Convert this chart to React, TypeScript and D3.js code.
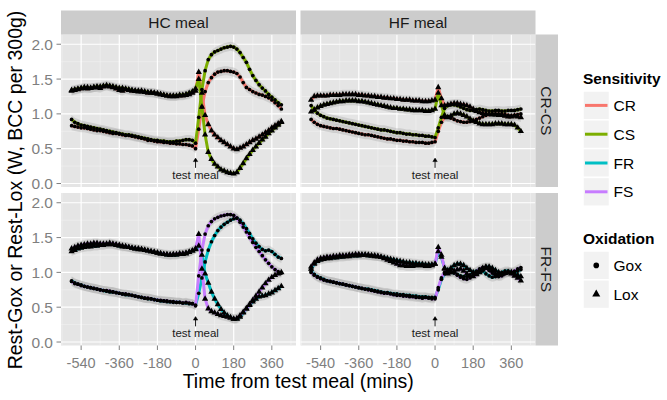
import React from "react";
import * as d3 from "d3";

const TIMES = [
  -585, -570, -555, -540, -525, -510, -495, -480, -465, -450,
  -435, -420, -405, -390, -375, -360, -345, -330, -315, -300,
  -285, -270, -255, -240, -225, -210, -195, -180, -165, -150,
  -135, -120, -105, -90, -75, -60, -45, -30, -15, 0,
  15, 30, 45, 60, 75, 90, 105, 120, 135, 150, 165, 180, 195, 210,
  225, 240, 255, 270, 285, 300, 315, 330, 345, 360, 375, 390, 405,
];

const MEALS = ["HC meal", "HF meal"];
const PAIRS = ["CR-CS", "FR-FS"];
const SENSITIVITY = ["CR", "CS", "FR", "FS"];
const SENS_COLORS = ["#F8766D", "#7CAE00", "#00BFC4", "#C77CFF"];
const OXIDATION = ["Gox", "Lox"];
const X_TICKS = [-540, -360, -180, 0, 180, 360];
const X_MINOR = [-630, -450, -270, -90, 90, 270, 450];
const Y_TICKS = [0, 0.5, 1, 1.5, 2];
const Y_MINOR = [0.25, 0.75, 1.25, 1.75];

// HC meal, CR-CS
const HC_CR_LOX = [
  1.33, 1.34, 1.35, 1.36, 1.37, 1.36, 1.37, 1.38, 1.38, 1.37,
  1.39, 1.40, 1.39, 1.38, 1.36, 1.34, 1.33, 1.35, 1.34, 1.33,
  1.33, 1.32, 1.33, 1.31, 1.30, 1.31, 1.30, 1.29, 1.28, 1.27,
  1.26, 1.26, 1.25, 1.25, 1.26, 1.26, 1.27, 1.28, 1.30, 1.33,
  1.60, 1.30, 0.98, 0.85, 0.76, 0.70, 0.66, 0.62, 0.59, 0.56, 0.53, 0.50, 0.49, 0.51,
  0.53, 0.56, 0.59, 0.62, 0.64, 0.67, 0.70, 0.73, 0.76, 0.80, 0.83, 0.86, 0.89,
];
const HC_CS_LOX = [
  1.34, 1.35, 1.36, 1.37, 1.38, 1.38, 1.37, 1.38, 1.39, 1.39,
  1.40, 1.41, 1.40, 1.39, 1.38, 1.37, 1.37, 1.36, 1.35, 1.34,
  1.33, 1.33, 1.32, 1.32, 1.31, 1.30, 1.30, 1.29, 1.28, 1.27,
  1.26, 1.25, 1.26, 1.26, 1.27, 1.27, 1.28, 1.30, 1.32, 1.36,
  1.50, 1.10, 0.70, 0.45, 0.35, 0.28, 0.24, 0.20, 0.18, 0.16, 0.15, 0.14, 0.16, 0.22,
  0.29, 0.36, 0.42, 0.48, 0.53, 0.58, 0.63, 0.67, 0.72, 0.76, 0.80, 0.84, 0.88,
];
const HC_CR_GOX = [
  0.83, 0.82, 0.81, 0.80, 0.80, 0.79, 0.78, 0.77, 0.76, 0.76,
  0.75, 0.74, 0.73, 0.72, 0.72, 0.71, 0.70, 0.69, 0.69, 0.68,
  0.67, 0.66, 0.65, 0.64, 0.62, 0.62, 0.61, 0.60, 0.60, 0.59,
  0.59, 0.58, 0.58, 0.57, 0.57, 0.56, 0.56, 0.55, 0.54, 0.50,
  0.78, 1.10, 1.32, 1.45, 1.52, 1.57, 1.60, 1.61, 1.62, 1.62, 1.61, 1.60, 1.58, 1.53,
  1.45, 1.38, 1.35, 1.32, 1.30, 1.28, 1.27, 1.25, 1.23, 1.20, 1.16, 1.12, 1.07,
];
const HC_CS_GOX = [
  0.92, 0.88, 0.86, 0.84, 0.83, 0.82, 0.81, 0.80, 0.79, 0.78,
  0.77, 0.76, 0.75, 0.74, 0.73, 0.72, 0.71, 0.70, 0.70, 0.69,
  0.68, 0.67, 0.66, 0.65, 0.64, 0.63, 0.62, 0.62, 0.61, 0.61,
  0.60, 0.60, 0.60, 0.61, 0.61, 0.62, 0.63, 0.63, 0.62, 0.58,
  0.95, 1.35, 1.62, 1.78, 1.85, 1.89, 1.91, 1.93, 1.95, 1.96, 1.97, 1.96, 1.93, 1.88,
  1.81, 1.74, 1.64, 1.55, 1.48, 1.42, 1.37, 1.33, 1.28, 1.24, 1.20, 1.16, 1.13,
];

// HF meal, CR-CS
const HF_CR_LOX = [
  1.20, 1.25, 1.26, 1.26, 1.26, 1.26, 1.27, 1.27, 1.27, 1.27,
  1.28, 1.28, 1.28, 1.28, 1.28, 1.27, 1.27, 1.26, 1.26, 1.25,
  1.25, 1.24, 1.24, 1.23, 1.23, 1.22, 1.22, 1.21, 1.21, 1.20,
  1.20, 1.20, 1.19, 1.19, 1.19, 1.18, 1.18, 1.18, 1.19, 1.20,
  1.38, 1.22, 1.12, 1.13, 1.14, 1.15, 1.15, 1.14, 1.13, 1.12, 1.10, 1.07, 1.04, 1.02,
  1.01, 1.00, 1.00, 0.99, 0.99, 0.98, 0.98, 0.97, 0.96, 0.96, 0.97, 0.96, 0.95,
];
const HF_CS_LOX = [
  1.03, 1.06, 1.09, 1.11, 1.13, 1.14, 1.15, 1.16, 1.17, 1.18,
  1.18, 1.19, 1.19, 1.19, 1.19, 1.18, 1.18, 1.17, 1.16, 1.15,
  1.14, 1.13, 1.12, 1.11, 1.10, 1.09, 1.08, 1.08, 1.07, 1.07,
  1.06, 1.06, 1.05, 1.05, 1.05, 1.05, 1.04, 1.04, 1.05, 1.07,
  1.30, 1.12, 0.98, 0.95, 0.97, 1.00, 1.01, 1.00, 0.98, 0.96, 0.93, 0.90, 0.88, 0.86,
  0.85, 0.85, 0.85, 0.85, 0.86, 0.86, 0.86, 0.85, 0.85, 0.85, 0.84, 0.80, 0.75,
];
const HF_CR_GOX = [
  0.92, 0.88, 0.85, 0.83, 0.82, 0.81, 0.80, 0.79, 0.79, 0.78,
  0.77, 0.76, 0.75, 0.74, 0.73, 0.72, 0.71, 0.70, 0.70, 0.69,
  0.68, 0.67, 0.66, 0.65, 0.64, 0.64, 0.63, 0.62, 0.62, 0.61,
  0.61, 0.60, 0.60, 0.59, 0.59, 0.59, 0.58, 0.58, 0.59, 0.60,
  0.75, 0.88, 0.95, 0.96, 0.94, 0.92, 0.90, 0.89, 0.88, 0.88, 0.89, 0.90, 0.92, 0.94,
  0.96, 0.98, 0.99, 1.00, 1.00, 1.00, 1.00, 0.99, 0.98, 0.97, 0.98, 0.99, 1.00,
];
const HF_CS_GOX = [
  1.12, 1.05, 1.01, 0.98, 0.96, 0.94, 0.93, 0.92, 0.91, 0.90,
  0.89, 0.88, 0.87, 0.86, 0.85, 0.84, 0.83, 0.82, 0.81, 0.80,
  0.79, 0.78, 0.77, 0.77, 0.76, 0.75, 0.74, 0.73, 0.73, 0.72,
  0.71, 0.71, 0.70, 0.70, 0.69, 0.69, 0.68, 0.68, 0.67, 0.66,
  0.80, 0.95, 1.08, 1.12, 1.13, 1.13, 1.12, 1.10, 1.08, 1.06, 1.05, 1.05, 1.06, 1.07,
  1.06, 1.05, 1.04, 1.04, 1.05, 1.05, 1.04, 1.04, 1.05, 1.05, 1.05, 1.06, 1.07,
];

// HC meal, FR-FS
const HC_FR_LOX = [
  1.30, 1.32, 1.34, 1.35, 1.36, 1.37, 1.37, 1.38, 1.38, 1.39,
  1.39, 1.40, 1.40, 1.40, 1.39, 1.38, 1.37, 1.37, 1.36, 1.35,
  1.34, 1.33, 1.33, 1.32, 1.31, 1.30, 1.29, 1.28, 1.27, 1.26,
  1.25, 1.25, 1.25, 1.25, 1.26, 1.26, 1.27, 1.29, 1.31, 1.33,
  1.38, 1.25, 0.98, 0.85, 0.72, 0.62, 0.54, 0.47, 0.42, 0.38, 0.35, 0.33, 0.33, 0.36,
  0.42, 0.48, 0.53, 0.58, 0.62, 0.65, 0.66, 0.67, 0.69, 0.71, 0.74, 0.77, 0.80,
];
const HC_FS_LOX = [
  1.34, 1.36, 1.38, 1.39, 1.40, 1.41, 1.41, 1.42, 1.42, 1.41,
  1.41, 1.41, 1.42, 1.41, 1.40, 1.39, 1.38, 1.37, 1.36, 1.35,
  1.34, 1.34, 1.33, 1.32, 1.31, 1.30, 1.29, 1.28, 1.27, 1.26,
  1.26, 1.25, 1.26, 1.26, 1.27, 1.27, 1.28, 1.29, 1.31, 1.34,
  1.55, 1.05, 0.62, 0.48, 0.44, 0.42, 0.40, 0.38, 0.37, 0.36, 0.35, 0.33, 0.34, 0.38,
  0.43, 0.48, 0.54, 0.60, 0.66, 0.72, 0.78, 0.84, 0.89, 0.93, 0.96, 0.98, 1.00,
];
const HC_FR_GOX = [
  0.88, 0.85, 0.83, 0.82, 0.80, 0.79, 0.78, 0.77, 0.76, 0.75,
  0.74, 0.73, 0.72, 0.72, 0.71, 0.70, 0.69, 0.68, 0.68, 0.67,
  0.66, 0.65, 0.64, 0.63, 0.62, 0.62, 0.61, 0.60, 0.59, 0.59,
  0.58, 0.58, 0.57, 0.57, 0.57, 0.56, 0.56, 0.55, 0.55, 0.53,
  0.70, 0.92, 1.15, 1.32, 1.44, 1.53, 1.60, 1.65, 1.69, 1.72, 1.75, 1.77, 1.78, 1.75,
  1.70, 1.63, 1.56, 1.48, 1.42, 1.37, 1.33, 1.31, 1.32, 1.30, 1.26, 1.22, 1.20,
];
const HC_FS_GOX = [
  0.87, 0.84, 0.83, 0.81, 0.80, 0.79, 0.78, 0.77, 0.76, 0.75,
  0.74, 0.74, 0.73, 0.72, 0.71, 0.70, 0.69, 0.69, 0.68, 0.67,
  0.66, 0.65, 0.64, 0.63, 0.63, 0.62, 0.61, 0.60, 0.60, 0.59,
  0.59, 0.58, 0.58, 0.57, 0.57, 0.56, 0.57, 0.56, 0.55, 0.52,
  0.95, 1.32, 1.55, 1.67, 1.73, 1.77, 1.79, 1.81, 1.82, 1.83, 1.83, 1.82, 1.78, 1.72,
  1.65, 1.58, 1.50, 1.43, 1.36, 1.30, 1.24, 1.18, 1.13, 1.08, 1.04, 1.01, 0.99,
];

// HF meal, FR-FS
const HF_FR_LOX = [
  1.05, 1.12, 1.16, 1.18, 1.19, 1.20, 1.20, 1.21, 1.21, 1.22,
  1.22, 1.23, 1.23, 1.24, 1.24, 1.24, 1.25, 1.25, 1.24, 1.24,
  1.23, 1.23, 1.22, 1.21, 1.20, 1.19, 1.18, 1.17, 1.16, 1.15,
  1.14, 1.14, 1.13, 1.13, 1.12, 1.12, 1.11, 1.11, 1.11, 1.12,
  1.30, 1.22, 1.06, 1.03, 1.06, 1.10, 1.12, 1.12, 1.10, 1.06, 1.03, 1.00, 0.98, 1.00,
  1.04, 1.07, 1.08, 1.06, 1.03, 1.00, 0.98, 0.99, 1.00, 1.00, 0.98, 0.96, 0.94,
];
const HF_FS_LOX = [
  1.08, 1.14, 1.18, 1.20, 1.21, 1.22, 1.22, 1.23, 1.23, 1.24,
  1.24, 1.24, 1.25, 1.25, 1.26, 1.26, 1.25, 1.25, 1.25, 1.24,
  1.24, 1.23, 1.22, 1.20, 1.18, 1.16, 1.14, 1.12, 1.10, 1.10,
  1.09, 1.09, 1.09, 1.10, 1.10, 1.10, 1.09, 1.09, 1.10, 1.12,
  1.36, 1.25, 1.05, 0.98, 1.00, 1.02, 1.04, 1.05, 1.02, 0.98, 0.95, 0.94, 0.97, 1.02,
  1.06, 1.08, 1.06, 1.02, 0.98, 0.96, 0.97, 1.00, 1.00, 0.98, 0.95, 0.92, 0.88,
];
const HF_FR_GOX = [
  1.02, 0.97, 0.94, 0.92, 0.90, 0.88, 0.87, 0.86, 0.85, 0.84,
  0.83, 0.82, 0.81, 0.80, 0.79, 0.78, 0.77, 0.76, 0.76, 0.75,
  0.74, 0.73, 0.72, 0.71, 0.71, 0.70, 0.69, 0.69, 0.68, 0.68,
  0.67, 0.67, 0.66, 0.66, 0.65, 0.65, 0.65, 0.64, 0.64, 0.64,
  0.75, 0.90, 0.98, 1.00, 1.00, 0.99, 0.97, 0.95, 0.94, 0.94, 0.96, 0.99, 1.02, 1.04,
  1.02, 0.98, 0.95, 0.93, 0.94, 0.97, 1.00, 1.02, 1.02, 1.00, 1.00, 1.02, 1.04,
];
const HF_FS_GOX = [
  1.00, 0.96, 0.93, 0.91, 0.89, 0.88, 0.87, 0.86, 0.85, 0.84,
  0.83, 0.82, 0.81, 0.80, 0.79, 0.78, 0.77, 0.76, 0.75, 0.74,
  0.73, 0.72, 0.71, 0.70, 0.70, 0.69, 0.68, 0.67, 0.67, 0.66,
  0.66, 0.65, 0.65, 0.64, 0.64, 0.63, 0.64, 0.63, 0.62, 0.62,
  0.78, 0.92, 1.00, 1.03, 1.02, 1.00, 0.96, 0.93, 0.91, 0.90, 0.92, 0.96, 1.01, 1.05,
  1.07, 1.06, 1.03, 0.99, 0.96, 0.94, 0.95, 0.98, 1.00, 1.00, 1.02, 1.05, 1.07,
];

const SERIES = [
  { meal: "HC meal", pair: "CR-CS", sens: "CR", ox: "Gox", values: HC_CR_GOX },
  { meal: "HC meal", pair: "CR-CS", sens: "CR", ox: "Lox", values: HC_CR_LOX },
  { meal: "HC meal", pair: "CR-CS", sens: "CS", ox: "Gox", values: HC_CS_GOX },
  { meal: "HC meal", pair: "CR-CS", sens: "CS", ox: "Lox", values: HC_CS_LOX },
  { meal: "HF meal", pair: "CR-CS", sens: "CR", ox: "Gox", values: HF_CR_GOX },
  { meal: "HF meal", pair: "CR-CS", sens: "CR", ox: "Lox", values: HF_CR_LOX },
  { meal: "HF meal", pair: "CR-CS", sens: "CS", ox: "Gox", values: HF_CS_GOX },
  { meal: "HF meal", pair: "CR-CS", sens: "CS", ox: "Lox", values: HF_CS_LOX },
  { meal: "HC meal", pair: "FR-FS", sens: "FR", ox: "Gox", values: HC_FR_GOX },
  { meal: "HC meal", pair: "FR-FS", sens: "FR", ox: "Lox", values: HC_FR_LOX },
  { meal: "HC meal", pair: "FR-FS", sens: "FS", ox: "Gox", values: HC_FS_GOX },
  { meal: "HC meal", pair: "FR-FS", sens: "FS", ox: "Lox", values: HC_FS_LOX },
  { meal: "HF meal", pair: "FR-FS", sens: "FR", ox: "Gox", values: HF_FR_GOX },
  { meal: "HF meal", pair: "FR-FS", sens: "FR", ox: "Lox", values: HF_FR_LOX },
  { meal: "HF meal", pair: "FR-FS", sens: "FS", ox: "Gox", values: HF_FS_GOX },
  { meal: "HF meal", pair: "FR-FS", sens: "FS", ox: "Lox", values: HF_FS_LOX },
];

const FONT = "'Liberation Sans', Arial, Helvetica, sans-serif";
const colorScale = d3.scaleOrdinal<string, string>().domain(SENSITIVITY).range(SENS_COLORS);

export default function App() {
  const W = 667;
  const H = 400;
  const colX = [61, 300.5];
  const panelW = 235;
  const rowY = [34.5, 193];
  const panelH = 152.5;
  const stripH = 24;
  const stripW = 22.5;

  const xScales = colX.map((x0) => d3.scaleLinear().domain([-635, 474]).range([x0, x0 + panelW]));
  const yScales = rowY.map((y0) => d3.scaleLinear().domain([-0.05, 2.14]).range([y0 + panelH, y0]));

  const triPath = d3.symbol().type(d3.symbolTriangle).size(17)() as string;
  const triLegend = d3.symbol().type(d3.symbolTriangle).size(28)() as string;

  const panels: any[] = [];
  PAIRS.forEach((pair, r) => {
    MEALS.forEach((meal, c) => {
      const xs = xScales[c];
      const ys = yScales[r];
      const data = SERIES.filter((s) => s.meal === meal && s.pair === pair);
      const line = d3
        .line<number>()
        .x((_, i) => xs(TIMES[i]))
        .y((v) => ys(v));
      const area = d3
        .area<number>()
        .x((_, i) => xs(TIMES[i]))
        .y0((v) => ys(v - 0.065))
        .y1((v) => ys(v + 0.065));
      const x0 = colX[c];
      const y0 = rowY[r];
      panels.push(
        <g key={`p-${r}-${c}`}>
          <rect x={x0} y={y0} width={panelW} height={panelH} fill="#E5E5E5" />
          {X_MINOR.map((t) => (
            <line key={`xm${t}`} x1={xs(t)} x2={xs(t)} y1={y0} y2={y0 + panelH} stroke="#F2F2F2" strokeWidth={0.6} />
          ))}
          {Y_MINOR.map((t) => (
            <line key={`ym${t}`} x1={x0} x2={x0 + panelW} y1={ys(t)} y2={ys(t)} stroke="#F2F2F2" strokeWidth={0.6} />
          ))}
          {X_TICKS.map((t) => (
            <line key={`xM${t}`} x1={xs(t)} x2={xs(t)} y1={y0} y2={y0 + panelH} stroke="#FFFFFF" strokeWidth={1.2} />
          ))}
          {Y_TICKS.map((t) => (
            <line key={`yM${t}`} x1={x0} x2={x0 + panelW} y1={ys(t)} y2={ys(t)} stroke="#FFFFFF" strokeWidth={1.2} />
          ))}
          <clipPath id={`clip-${r}-${c}`}>
            <rect x={x0} y={y0} width={panelW} height={panelH} />
          </clipPath>
          <g clipPath={`url(#clip-${r}-${c})`}>
            {data.map((s, k) => (
              <path key={`a${k}`} d={area(s.values) as string} fill="#999999" fillOpacity={0.3} />
            ))}
            {data.map((s, k) => (
              <path key={`l${k}`} d={line(s.values) as string} fill="none" stroke={colorScale(s.sens)} strokeWidth={3} strokeLinejoin="round" />
            ))}
            {data.map((s, k) =>
              s.values.map((v, i) =>
                s.ox === "Gox" ? (
                  <circle key={`c${k}-${i}`} cx={xs(TIMES[i])} cy={ys(v)} r={1.85} fill="#000" />
                ) : (
                  <path key={`t${k}-${i}`} d={triPath} transform={`translate(${xs(TIMES[i])},${ys(v)})`} fill="#000" />
                )
              )
            )}
          </g>
          {/* test meal annotation */}
          <line x1={xs(0)} x2={xs(0)} y1={ys(0.225)} y2={ys(0.35)} stroke="#000" strokeWidth={0.9} />
          <path
            d={`M${xs(0) - 2.2},${ys(0.315)} L${xs(0)},${ys(0.365)} L${xs(0) + 2.2},${ys(0.315)} Z`}
            fill="#000"
            stroke="#000"
            strokeWidth={0.5}
          />
          <text x={xs(0)} y={ys(0.125)} fontSize={11.5} fill="#1A1A1A" textAnchor="middle" dominantBaseline="central" fontFamily={FONT}>
            test meal
          </text>
        </g>
      );
    });
  });

  // legend
  const legX = 583;
  const keyW = 26.5;
  const keyH = 28.8;
  const sensTop = 91;
  const oxTop = 251;

  return (
    <svg width={W} height={H} style={{ position: "absolute", left: 0, top: 0 }} fontFamily={FONT}>
      <rect x={0} y={0} width={W} height={H} fill="#FFFFFF" />
      {panels}
      {/* top strips */}
      {MEALS.map((m, c) => (
        <g key={`s${m}`}>
          <rect x={colX[c]} y={rowY[0] - stripH} width={panelW} height={stripH} fill="#CCCCCC" />
          <text x={colX[c] + panelW / 2} y={rowY[0] - stripH / 2} fontSize={15.5} fill="#1A1A1A" textAnchor="middle" dominantBaseline="central">
            {m}
          </text>
        </g>
      ))}
      {/* right strips */}
      {PAIRS.map((p, r) => (
        <g key={`r${p}`}>
          <rect x={colX[1] + panelW} y={rowY[r]} width={stripW} height={panelH} fill="#CCCCCC" />
          <text
            transform={`translate(${colX[1] + panelW + stripW / 2},${rowY[r] + panelH / 2}) rotate(90)`}
            fontSize={15.5}
            fill="#1A1A1A"
            textAnchor="middle"
            dominantBaseline="central"
          >
            {p}
          </text>
        </g>
      ))}
      {/* y axis */}
      {PAIRS.map((p, r) => (
        <g key={`ya${p}`}>
          {Y_TICKS.map((t) => (
            <g key={t}>
              <line x1={colX[0] - 4.5} x2={colX[0]} y1={yScales[r](t)} y2={yScales[r](t)} stroke="#7F7F7F" strokeWidth={1} />
              <text x={colX[0] - 8} y={yScales[r](t)} fontSize={15.5} fill="#7F7F7F" textAnchor="end" dominantBaseline="central">
                {d3.format(".1f")(t)}
              </text>
            </g>
          ))}
        </g>
      ))}
      {/* x axis */}
      {MEALS.map((m, c) => (
        <g key={`xa${m}`}>
          {X_TICKS.map((t) => (
            <g key={t}>
              <line x1={xScales[c](t)} x2={xScales[c](t)} y1={rowY[1] + panelH} y2={rowY[1] + panelH + 4.5} stroke="#7F7F7F" strokeWidth={1} />
              <text x={xScales[c](t)} y={rowY[1] + panelH + 17.5} fontSize={14.5} fill="#7F7F7F" textAnchor="middle" dominantBaseline="central">
                {t}
              </text>
            </g>
          ))}
        </g>
      ))}
      {/* axis titles */}
      <text x={(colX[0] + colX[1] + panelW) / 2} y={388} fontSize={19.5} fill="#000" textAnchor="middle">
        Time from test meal (mins)
      </text>
      <text transform={`translate(22,${(rowY[0] + rowY[1] + panelH) / 2}) rotate(-90)`} fontSize={19.5} fill="#000" textAnchor="middle">
        Rest-Gox or Rest-Lox (W, BCC per 300g)
      </text>
      {/* legend: Sensitivity */}
      <text x={legX} y={84} fontSize={15.5} fontWeight="bold" fill="#000">
        Sensitivity
      </text>
      {SENSITIVITY.map((s, i) => {
        const y = sensTop + i * keyH;
        return (
          <g key={`ls${s}`}>
            <rect x={legX} y={y} width={keyW} height={keyH} fill="#F2F2F2" stroke="#FFFFFF" strokeWidth={1.5} />
            <line x1={legX + 2} x2={legX + keyW - 2} y1={y + keyH / 2} y2={y + keyH / 2} stroke={colorScale(s)} strokeWidth={3} />
            <text x={legX + keyW + 4} y={y + keyH / 2} fontSize={15.5} fill="#000" dominantBaseline="central">
              {s}
            </text>
          </g>
        );
      })}
      {/* legend: Oxidation */}
      <text x={legX} y={244} fontSize={15.5} fontWeight="bold" fill="#000">
        Oxidation
      </text>
      {OXIDATION.map((o, i) => {
        const y = oxTop + i * keyH;
        return (
          <g key={`lo${o}`}>
            <rect x={legX} y={y} width={keyW} height={keyH} fill="#F2F2F2" stroke="#FFFFFF" strokeWidth={1.5} />
            {o === "Gox" ? (
              <circle cx={legX + keyW / 2} cy={y + keyH / 2} r={2.8} fill="#000" />
            ) : (
              <path d={triLegend} transform={`translate(${legX + keyW / 2},${y + keyH / 2})`} fill="#000" />
            )}
            <text x={legX + keyW + 4} y={y + keyH / 2} fontSize={15.5} fill="#000" dominantBaseline="central">
              {o}
            </text>
          </g>
        );
      })}
    </svg>
  );
}
